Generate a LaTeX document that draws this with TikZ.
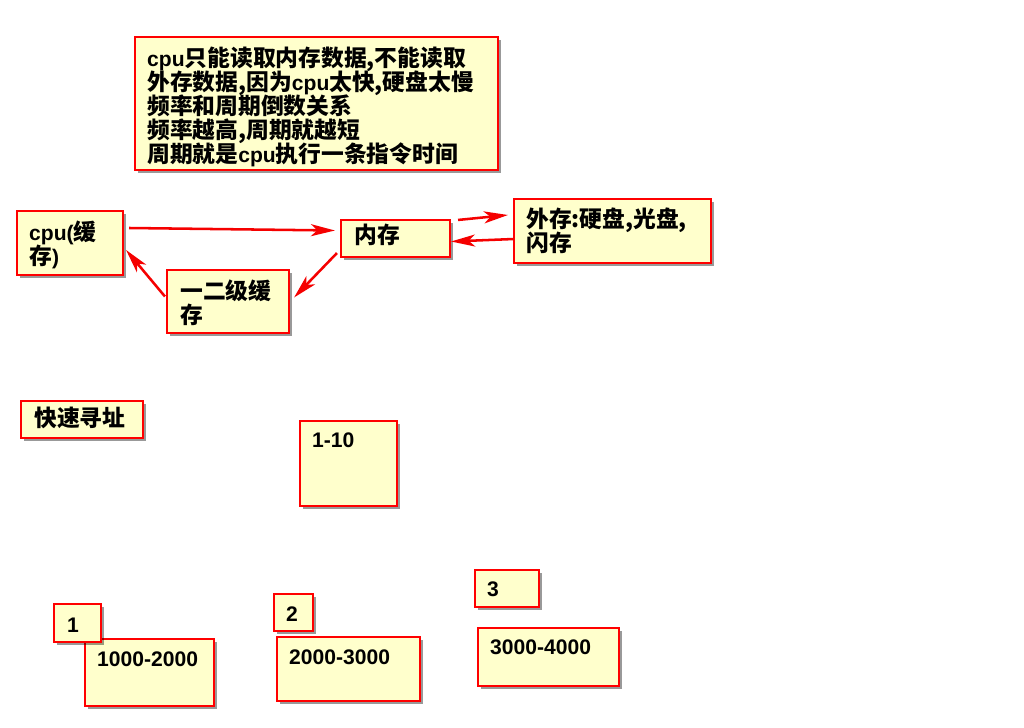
\documentclass[tikz,border=0pt]{standalone}
\usepackage{fontspec}
\setmainfont{Liberation Sans}
\newfontfamily\cjk[Scale=1.08]{Noto Sans CJK SC}
\usetikzlibrary{arrows.meta,fit,shadows}
\definecolor{notefill}{RGB}{255,255,204}
\definecolor{noteline}{RGB}{255,0,0}
\definecolor{arrowred}{RGB}{245,0,0}
\newcommand{\zh}[1]{{\cjk #1}}
\setlength{\lineskiplimit}{-20pt}

\begin{document}
\begin{tikzpicture}[x=0.025cm,y=-0.025cm,>={Stealth[length=0.6cm,width=0.3cm,inset=0.16cm]},
  note/.style={draw=noteline,fill=notefill,line width=1.5pt,inner sep=0pt,
    drop shadow={shadow xshift=0.08cm,shadow yshift=-0.08cm,fill=black,opacity=0.4}},
  txt/.style={anchor=base west,inner sep=0pt,align=left,
    font=\bfseries\fontsize{15}{17}\selectfont},
  lines/.style={txt,anchor=north west},
  link/.style={->,draw=arrowred,line width=1.8pt}]
  \useasboundingbox (0,0) rectangle (1024,728);

  % boxes
  \node[note,fit={(135,37) (498,170)}] (cond) {};
  \node[note,fit={(17,211) (123,275)}] (cpu) {};
  \node[note,fit={(341,220) (450,257)}] (mem) {};
  \node[note,fit={(514,199) (711,263)}] (ext) {};
  \node[note,fit={(167,270) (289,333)}] (cache) {};
  \node[note,fit={(21,401) (143,438)}] (fast) {};
  \node[note,fit={(300,421) (397,506)}] (range) {};
  \node[note,fit={(85,639) (214,706)}] (blockA) {};
  \node[note,fit={(54,604) (101,642)}] (numA) {};
  \node[note,fit={(277,637) (420,701)}] (blockB) {};
  \node[note,fit={(274,594) (313,631)}] (numB) {};
  \node[note,fit={(478,628) (619,686)}] (blockC) {};
  \node[note,fit={(475,570) (539,607)}] (numC) {};

  % texts
  \node[lines] (condtext) at ([shift={(13,11)}]cond.north west)
    {cpu\zh{只能读取内存数据,不能读取}\\
     \zh{外存数据,因为}cpu\zh{太快,硬盘太慢}\\
     \zh{频率和周期倒数关系}\\
     \zh{频率越高,周期就越短}\\
     \zh{周期就是}cpu\zh{执行一条指令时间}};
  \node[lines] (cputext) at ([shift={(13,11)}]cpu.north west) {cpu(\zh{缓}\\\zh{存})};
  \node[txt] (memtext) at ([shift={(14,25)}]mem.north west) {\zh{内存}};
  \node[lines] (exttext) at ([shift={(13,10)}]ext.north west) {\zh{外存:硬盘,光盘,}\\\zh{闪存}};
  \node[lines] (cachetext) at ([shift={(14,11)}]cache.north west) {\zh{一二级缓}\\\zh{存}};
  \node[txt] (fasttext) at ([shift={(14,27)}]fast.north west) {\zh{快速寻址}};
  \node[txt] (rangetext) at ([shift={(13,28)}]range.north west) {1-10};
  \node[txt] (blockAtext) at ([shift={(13,29)}]blockA.north west) {1000-2000};
  \node[txt] (numAtext) at ([shift={(14,30)}]numA.north west) {1};
  \node[txt] (blockBtext) at ([shift={(13,29)}]blockB.north west) {2000-3000};
  \node[txt] (numBtext) at ([shift={(13,29)}]numB.north west) {2};
  \node[txt] (blockCtext) at ([shift={(13,28)}]blockC.north west) {3000-4000};
  \node[txt] (numCtext) at ([shift={(13,28)}]numC.north west) {3};

  % connectors
  \draw[link] ([shift={(5,-15)}]cpu.east) -- ([shift={(-5,-8)}]mem.west);
  \draw[link] ([shift={(-3,-5)}]mem.south west) -- ([shift={(4,-4)}]cache.east);
  \draw[link] ([shift={(-1,-5)}]cache.west) -- ([shift={(2,7)}]cpu.east);
  \draw[link] ([shift={(7,1)}]mem.north east) -- ([shift={(-5,-16)}]ext.west);
  \draw[link] ([shift={(1,8)}]ext.west) -- ([shift={(0,3)}]mem.east);
\end{tikzpicture}
\end{document}
